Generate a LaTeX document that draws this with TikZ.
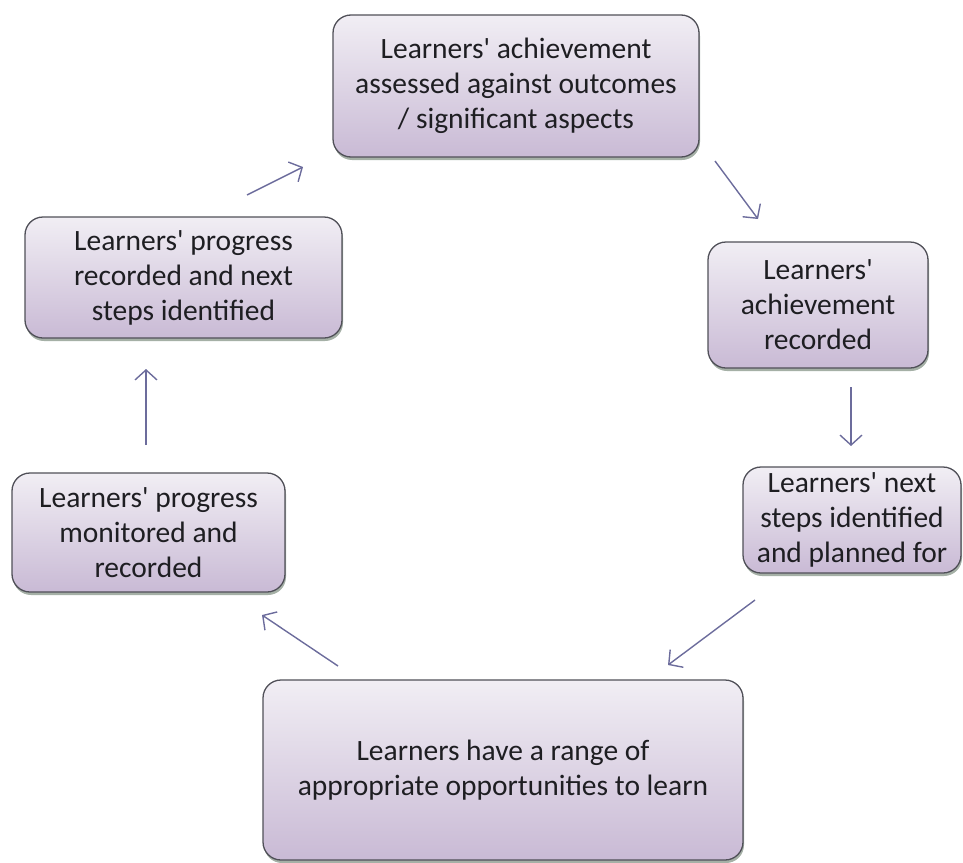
\documentclass[tikz,border=0pt]{standalone}
\usepackage{fontspec}
\setmainfont{Carlito}
\usetikzlibrary{arrows.meta,shadows}
\definecolor{boxtop}{HTML}{F1EEF4}
\definecolor{boxbot}{HTML}{C9BAD5}
\definecolor{boxline}{HTML}{505058}
\definecolor{arrowcol}{HTML}{6C6C9C}
\definecolor{shadowcol}{HTML}{8E9C90}
\definecolor{txt}{HTML}{1E1E22}
\newcommand{\apos}{\textquotesingle}
\begin{document}
\begin{tikzpicture}[x=1pt,y=-1pt,
  stagebox/.style={draw=boxline, line width=1.3pt, rounded corners=18pt,
    top color=boxtop, bottom color=boxbot, text=txt,
    align=center, inner sep=0pt, font=\fontsize{29.5}{35}\selectfont,
    drop shadow={shadow xshift=1pt, shadow yshift=-3pt, fill=shadowcol, opacity=0.8}},
  flow/.style={draw=arrowcol, line width=1.4pt,
    -{Straight Barb[length=10pt,width=22pt,line width=1.4pt]}}]
\useasboundingbox (0,0) rectangle (963,862);

% stages of the cycle
\node[stagebox, minimum width=366pt, minimum height=142pt] (assess) at (516,86)
  {Learners\apos{} achievement\\assessed against outcomes\\/ significant aspects};
\node[stagebox, minimum width=220pt, minimum height=126pt] (achrec) at (818,305)
  {Learners\apos\\achievement\\recorded};
\node[stagebox, minimum width=218pt, minimum height=106pt] (nextplan) at (852,520)
  {Learners\apos{} next\\steps identified\\and planned for};
\node[stagebox, minimum width=480pt, minimum height=180pt] (learn) at (503,770)
  {Learners have a range of\\appropriate opportunities to learn};
\node[stagebox, minimum width=273pt, minimum height=119pt] (monitor) at (148.5,532.5)
  {Learners\apos{} progress\\monitored and\\recorded};
\node[stagebox, minimum width=317pt, minimum height=121pt] (progrec) at (183.5,277.5)
  {Learners\apos{} progress\\recorded and next\\steps identified};

% arrow end points between the stages
\coordinate (a1s) at (715,161);  \coordinate (a1e) at (758,219);
\coordinate (a2s) at (851,387);  \coordinate (a2e) at (851,446);
\coordinate (a3s) at (755,600);  \coordinate (a3e) at (668,665);
\coordinate (a4s) at (338,666);  \coordinate (a4e) at (262,615);
\coordinate (a5s) at (146,445);  \coordinate (a5e) at (146,369);
\coordinate (a6s) at (247,195);  \coordinate (a6e) at (303,167);

\draw[flow] (a1s) -- (a1e);
\draw[flow] (a2s) -- (a2e);
\draw[flow] (a3s) -- (a3e);
\draw[flow] (a4s) -- (a4e);
\draw[flow] (a5s) -- (a5e);
\draw[flow] (a6s) -- (a6e);
\end{tikzpicture}
\end{document}
